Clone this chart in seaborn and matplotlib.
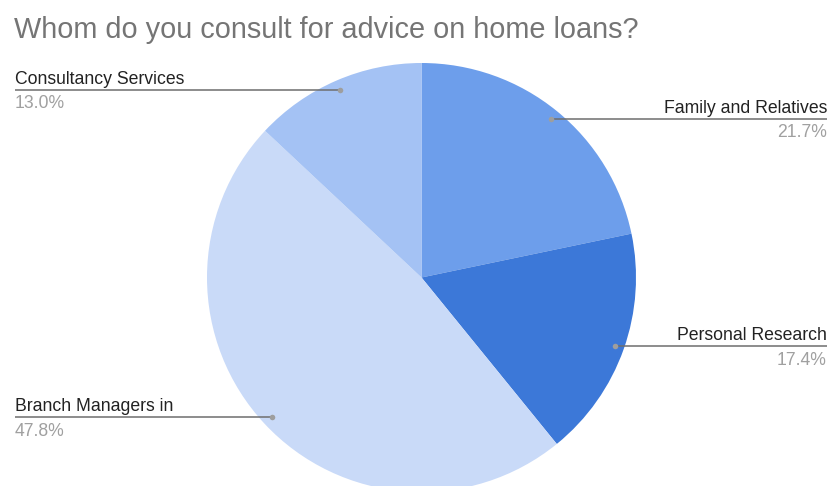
import numpy as np
import matplotlib
matplotlib.use("Agg")
import matplotlib.pyplot as plt
import seaborn as sns

# Survey answers, clockwise from 12 o'clock
categories = ["Family and Relatives", "Personal Research", "Branch Managers in", "Consultancy Services"]
shares = [21.7, 17.4, 47.8, 13.0]
colors = ["#6d9eeb", "#3c78d8", "#c9daf8", "#a4c2f4"]
title = "Whom do you consult for advice on home loans?"

sns.set_theme(style="white")
plt.rcParams["font.family"] = ["Liberation Sans", "DejaVu Sans"]

W, H = 829, 486
fig = plt.figure(figsize=(W / 100, H / 100), dpi=100)
ax = fig.add_axes([0, 0, 1, 1])

# pixel-like coordinates, y pointing up
cx, cy, R = 421.5, H - 277.5, 214.5
palette = sns.color_palette(colors)
wedges, _ = ax.pie(shares, colors=palette, startangle=90, counterclock=False,
                   center=(cx, cy), radius=R, wedgeprops=dict(linewidth=0))
ax.set_xlim(0, W)
ax.set_ylim(0, H)
ax.set_aspect("equal")
ax.axis("off")

ax.text(14, H - 38, title, fontsize=20.8, color="#757575", va="baseline", ha="left")

total = sum(shares)
cum = 0.0
for name, val in zip(categories, shares):
    mid = (cum + val / 2) / total * 2 * np.pi
    cum += val
    px = cx + 0.955 * R * np.sin(mid)
    py = cy + 0.955 * R * np.cos(mid)
    if px > cx:
        x_end, ha = W - 2, "right"
    else:
        x_end, ha = 15, "left"
    ax.plot([px, x_end], [py, py], color="#6e6e6e", lw=1.1, solid_capstyle="butt", zorder=3)
    ax.plot([px], [py], "o", ms=4, color="#9e9e9e", mec="none", zorder=4)
    ax.text(x_end, py + 6, name, fontsize=12.7, color="#222222", ha=ha, va="baseline")
    ax.text(x_end, py - 18.5, f"{val:.1f}%", fontsize=12.7, color="#a0a0a0", ha=ha, va="baseline")

fig.savefig("out.png", dpi=100, facecolor="white")
